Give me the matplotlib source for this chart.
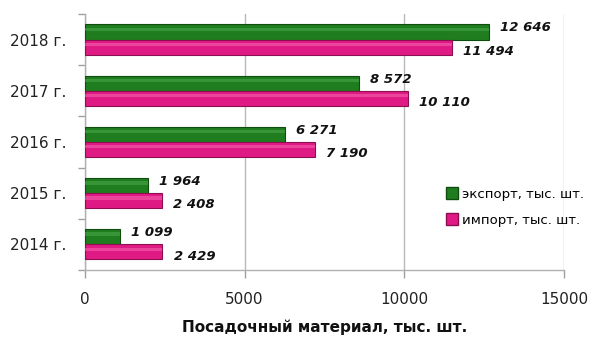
import numpy as np
import matplotlib.pyplot as plt
from matplotlib.lines import Line2D

years = ['2014 г.', '2015 г.', '2016 г.', '2017 г.', '2018 г.']
export = [1099, 1964, 6271, 8572, 12646]
imports = [2429, 2408, 7190, 10110, 11494]
lbl_export = 'экспорт, тыс. шт.'
lbl_import = 'импорт, тыс. шт.'

green = '#1f7d1f'
green_edge = '#0f4d0f'
pink = '#e01a84'
pink_edge = '#8d0f52'


def fmt(v):
    return f'{v:,}'.replace(',', ' ')


fig = plt.figure(figsize=(5.97, 3.38), dpi=100)
ax = fig.add_axes([0.142, 0.2012, 0.803, 0.7574])

y = np.arange(len(years))
h = 0.295

# export on top, import below inside each year group
ax.barh(y + h / 2, export, height=h, color=green, edgecolor=green_edge, linewidth=0.8, zorder=3)
ax.barh(y - h / 2, imports, height=h, color=pink, edgecolor=pink_edge, linewidth=0.8, zorder=3)

# light highlight stripe for a little bevel look
ax.barh(y + h / 2 + h * 0.18, export, height=h * 0.22, color='#4fae4f', linewidth=0, zorder=4, alpha=0.5)
ax.barh(y - h / 2 + h * 0.18, imports, height=h * 0.22, color='#f56fb5', linewidth=0, zorder=4, alpha=0.5)

vfont = dict(fontsize=9.5, fontweight='bold', style='italic', family='DejaVu Sans', color='#111111')
for yi, v in zip(y, export):
    ax.annotate(fmt(v), (v, yi + h / 2), xytext=(8, 3), textcoords='offset points',
                ha='left', va='center', **vfont)
for yi, v in zip(y, imports):
    ax.annotate(fmt(v), (v, yi - h / 2), xytext=(8, -3), textcoords='offset points',
                ha='left', va='center', **vfont)

ax.set_xlim(0, 15000)
ax.set_ylim(-0.5, len(years) - 0.5)
ax.set_xticks([0, 5000, 10000, 15000])
ax.set_xticklabels(['0', '5000', '10000', '15000'], fontsize=11, color='#222222')
ax.set_yticks(y)
ax.set_yticklabels(years, fontsize=11, color='#222222')
ax.set_yticks(np.arange(-0.5, len(years)), minor=True)
ax.tick_params(axis='y', which='major', length=0, pad=13)
ax.tick_params(axis='y', which='minor', length=5, color='#a0a0a0', width=1)
ax.tick_params(axis='x', length=6, color='#a0a0a0', width=1, pad=10)

ax.grid(axis='x', color='#b8b8b8', linewidth=1, zorder=0)
for s in ['top', 'right']:
    ax.spines[s].set_visible(False)
for s in ['left', 'bottom']:
    ax.spines[s].set_color('#b0b0b0')
    ax.spines[s].set_linewidth(1)

ax.set_xlabel('Посадочный материал, тыс. шт.', fontsize=11, fontweight='bold', color='#111111')
ax.xaxis.set_label_coords(0.5, -0.222)
ax.xaxis.label.set_va('center')

handles = [
    Line2D([], [], marker='s', linestyle='', markersize=8, markerfacecolor=green, markeredgecolor=green_edge),
    Line2D([], [], marker='s', linestyle='', markersize=8, markerfacecolor=pink, markeredgecolor=pink_edge),
]
ax.legend(handles, [lbl_export, lbl_import], loc='center left', bbox_to_anchor=(0.745, 0.245),
          frameon=False, fontsize=9.5, handlelength=0.8, handletextpad=0.3, labelspacing=1.0,
          borderaxespad=0)

fig.savefig('out.png', dpi=100)
